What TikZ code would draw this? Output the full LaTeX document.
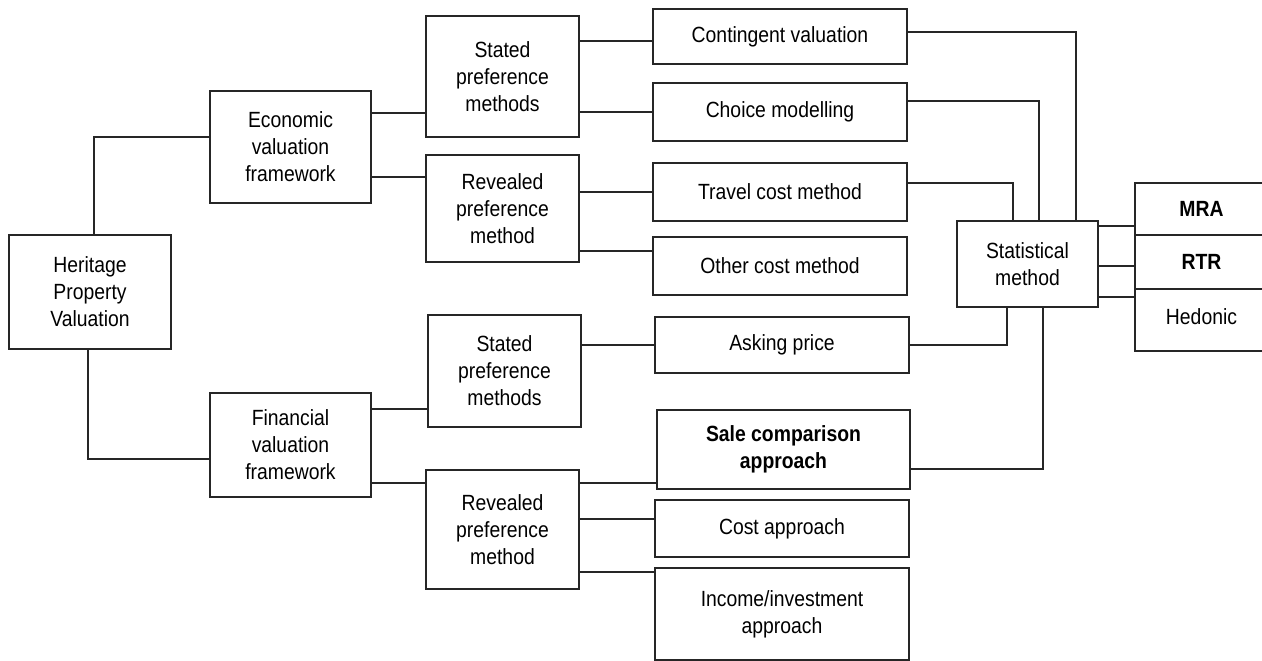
\documentclass[tikz,border=0pt]{standalone}
\usepackage{fontspec}
\setmainfont{Liberation Sans}[FakeStretch=0.88]
\begin{document}
\begin{tikzpicture}[x=1pt,y=-1pt,
  bx/.style={draw=black!85, line width=1.3pt, inner sep=0pt, align=center,
    font=\fontsize{22}{27}\selectfont},
  ln/.style={draw=black!85, line width=1.3pt}]
\useasboundingbox (0,0) rectangle (1262,661);
\clip (0,0) rectangle (1262,661);
% nodes
\node[bx, minimum width=162, minimum height=114] (her) at (90,292) {Heritage\\Property\\Valuation};
\node[bx, minimum width=161, minimum height=112] (eco) at (290.5,147) {Economic\\valuation\\framework};
\node[bx, minimum width=161, minimum height=104] (fin) at (290.5,445) {Financial\\valuation\\framework};
\node[bx, minimum width=153, minimum height=121] (sp1) at (502.5,76.5) {Stated\\preference\\methods};
\node[bx, minimum width=153, minimum height=107] (rp1) at (502.5,208.5) {Revealed\\preference\\method};
\node[bx, minimum width=153, minimum height=112] (sp2) at (504.5,371) {Stated\\preference\\methods};
\node[bx, minimum width=153, minimum height=119] (rp2) at (502.5,529.5) {Revealed\\preference\\method};
\node[bx, minimum width=254, minimum height=55] (cv) at (780,36.5) {Contingent valuation};
\node[bx, minimum width=254, minimum height=58] (cm) at (780,112) {Choice modelling};
\node[bx, minimum width=254, minimum height=58] (tc) at (780,192) {Travel cost method};
\node[bx, minimum width=254, minimum height=58] (oc) at (780,266) {Other cost method};
\node[bx, minimum width=254, minimum height=56] (ap) at (782,345) {Asking price};
\node[bx, minimum width=253, minimum height=79] (sc) at (783.5,449.5) {\bfseries Sale comparison\\\bfseries approach};
\node[bx, minimum width=254, minimum height=57] (ca) at (782,528.5) {Cost approach};
\node[bx, minimum width=254, minimum height=92] (ii) at (782,614) {Income/investment\\approach};
\node[bx, minimum width=141, minimum height=86] (stat) at (1027.5,264) {Statistical\\method};
\node[bx, minimum width=133, minimum height=52] (mra) at (1201.5,209) {\bfseries MRA};
\node[bx, minimum width=133, minimum height=54] (rtr) at (1201.5,262) {\bfseries RTR};
\node[bx, minimum width=133, minimum height=62] (hed) at (1201.5,320) {\raisebox{7pt}{Hedonic}};
% connectors
\draw[ln] ([xshift=4]her.north) |- ([yshift=10]eco.west);
\draw[ln] ([xshift=-2]her.south) |- ([yshift=-14]fin.west);
\draw[ln] ([yshift=34]eco.east) -- ([yshift=34]eco.east -| sp1.west);
\draw[ln] ([yshift=-30]eco.east) -- ([yshift=-30]eco.east -| rp1.west);
\draw[ln] ([yshift=-4.5]cv.west -| sp1.east) -- ([yshift=-4.5]cv.west);
\draw[ln] (cm.west -| sp1.east) -- (cm.west);
\draw[ln] (tc.west -| rp1.east) -- (tc.west);
\draw[ln] ([yshift=15]oc.west -| rp1.east) -- ([yshift=15]oc.west);
\draw[ln] ([yshift=36]fin.east) -- ([yshift=36]fin.east -| sp2.west);
\draw[ln] ([yshift=-38]fin.east) -- ([yshift=-38]fin.east -| rp2.west);
\draw[ln] (ap.west -| sp2.east) -- (ap.west);
\draw[ln] ([yshift=-33.5]sc.west -| rp2.east) -- ([yshift=-33.5]sc.west);
\draw[ln] ([yshift=9.5]ca.west -| rp2.east) -- ([yshift=9.5]ca.west);
\draw[ln] ([yshift=42]ii.west -| rp2.east) -- ([yshift=42]ii.west);
\draw[ln] ([yshift=4.5]cv.east) -| ([xshift=48.5]stat.north);
\draw[ln] ([yshift=11]cm.east) -| ([xshift=11.5]stat.north);
\draw[ln] ([yshift=9]tc.east) -| ([xshift=-14.5]stat.north);
\draw[ln] (ap.east) -| ([xshift=-20.5]stat.south);
\draw[ln] ([yshift=-19.5]sc.east) -| ([xshift=15.5]stat.south);
\draw[ln] ([yshift=38]stat.east) -- ([yshift=38]stat.east -| mra.west);
\draw[ln] ([yshift=-2]stat.east) -- ([yshift=-2]stat.east -| rtr.west);
\draw[ln] ([yshift=-33]stat.east) -- ([yshift=-33]stat.east -| hed.west);
\end{tikzpicture}
\end{document}
